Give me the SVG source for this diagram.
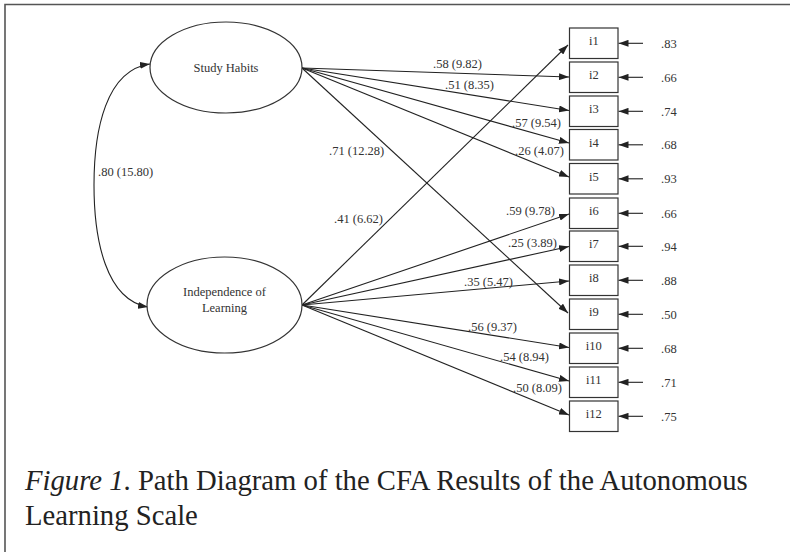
<svg xmlns="http://www.w3.org/2000/svg" width="790" height="552" viewBox="0 0 790 552">
<defs>
<marker id="ah" markerWidth="10" markerHeight="7" refX="10" refY="3.5" orient="auto-start-reverse" markerUnits="userSpaceOnUse">
<path d="M0,0 L10,3.5 L0,7 z" fill="#222"/>
</marker>
<style>
.t{font-family:"Liberation Serif","Times New Roman",serif;font-size:12.5px;fill:#333}
.c{text-anchor:middle}
.box{fill:#fff;stroke:#333;stroke-width:1.2}
.ell{fill:#fff;stroke:#333;stroke-width:1.2}
.ln{stroke:#222;stroke-width:1.1;fill:none;marker-end:url(#ah)}
.cap{font-family:"Liberation Serif","Times New Roman",serif;font-size:28.7px;fill:#222}
</style>
</defs>
<rect width="790" height="552" fill="#fff"/>
<path d="M5,552 V4.5 H790" fill="none" stroke="#555" stroke-width="1.6"/>

<g id="connectors">
<path class="ln" style="marker-start:url(#ah)" d="M150,64 C106,70 94,130 94,185 C94,240 106,300 148,307"/>
<line class="ln" x1="302" y1="68" x2="569" y2="77"/>
<line class="ln" x1="302" y1="68" x2="569" y2="110.5"/>
<line class="ln" x1="302" y1="68" x2="569" y2="143"/>
<line class="ln" x1="302" y1="68" x2="569" y2="177"/>
<line class="ln" x1="302" y1="68" x2="568" y2="313"/>
<line class="ln" x1="302" y1="305" x2="568" y2="45"/>
<line class="ln" x1="302" y1="305" x2="569" y2="214"/>
<line class="ln" x1="302" y1="305" x2="569" y2="246.5"/>
<line class="ln" x1="302" y1="305" x2="569" y2="281"/>
<line class="ln" x1="302" y1="305" x2="569" y2="347.5"/>
<line class="ln" x1="302" y1="305" x2="569" y2="381"/>
<line class="ln" x1="302" y1="305" x2="569" y2="415"/>
<line class="ln" x1="643" y1="43.3" x2="618.5" y2="43.3"/>
<line class="ln" x1="643" y1="77.3" x2="618.5" y2="77.3"/>
<line class="ln" x1="643" y1="111.3" x2="618.5" y2="111.3"/>
<line class="ln" x1="643" y1="144.8" x2="618.5" y2="144.8"/>
<line class="ln" x1="643" y1="178.8" x2="618.5" y2="178.8"/>
<line class="ln" x1="643" y1="213.3" x2="618.5" y2="213.3"/>
<line class="ln" x1="643" y1="246.3" x2="618.5" y2="246.3"/>
<line class="ln" x1="643" y1="280.3" x2="618.5" y2="280.3"/>
<line class="ln" x1="643" y1="314.3" x2="618.5" y2="314.3"/>
<line class="ln" x1="643" y1="348.3" x2="618.5" y2="348.3"/>
<line class="ln" x1="643" y1="382.3" x2="618.5" y2="382.3"/>
<line class="ln" x1="643" y1="416.3" x2="618.5" y2="416.3"/>
</g>

<g id="labels" class="t">
<text x="98" y="176">.80 (15.80)</text>
<text x="433" y="68">.58 (9.82)</text>
<text x="445" y="89">.51 (8.35)</text>
<text x="512" y="127">.57 (9.54)</text>
<text x="515" y="155">.26 (4.07)</text>
<text x="329" y="155">.71 (12.28)</text>
<text x="334" y="223">.41 (6.62)</text>
<text x="506" y="215">.59 (9.78)</text>
<text x="508" y="247">.25 (3.89)</text>
<text x="464" y="286">.35 (5.47)</text>
<text x="468" y="331">.56 (9.37)</text>
<text x="500" y="361">.54 (8.94)</text>
<text x="513" y="392">.50 (8.09)</text>
</g>

<g id="study_habits">
<ellipse class="ell" cx="226" cy="67.5" rx="76" ry="45.5"/>
<text class="t c" x="226" y="72">Study Habits</text>
</g>
<g id="independence">
<ellipse class="ell" cx="224.5" cy="305" rx="77.5" ry="48"/>
<text class="t c" x="224.5" y="296">Independence of</text>
<text class="t c" x="224.5" y="312">Learning</text>
</g>

<g id="i1"><rect class="box" x="569.5" y="28" width="48.5" height="30.5"/><text class="t c" x="593.8" y="45">i1</text></g>
<g id="i2"><rect class="box" x="569.5" y="62" width="48.5" height="30.5"/><text class="t c" x="593.8" y="79">i2</text></g>
<g id="i3"><rect class="box" x="569.5" y="96" width="48.5" height="30.5"/><text class="t c" x="593.8" y="113">i3</text></g>
<g id="i4"><rect class="box" x="569.5" y="129.5" width="48.5" height="30.5"/><text class="t c" x="593.8" y="146.5">i4</text></g>
<g id="i5"><rect class="box" x="569.5" y="163.5" width="48.5" height="30.5"/><text class="t c" x="593.8" y="180.5">i5</text></g>
<g id="i6"><rect class="box" x="569.5" y="198" width="48.5" height="30.5"/><text class="t c" x="593.8" y="215">i6</text></g>
<g id="i7"><rect class="box" x="569.5" y="231" width="48.5" height="30.5"/><text class="t c" x="593.8" y="248">i7</text></g>
<g id="i8"><rect class="box" x="569.5" y="265" width="48.5" height="30.5"/><text class="t c" x="593.8" y="282">i8</text></g>
<g id="i9"><rect class="box" x="569.5" y="299" width="48.5" height="30.5"/><text class="t c" x="593.8" y="316">i9</text></g>
<g id="i10"><rect class="box" x="569.5" y="333" width="48.5" height="30.5"/><text class="t c" x="593.8" y="350">i10</text></g>
<g id="i11"><rect class="box" x="569.5" y="367" width="48.5" height="30.5"/><text class="t c" x="593.8" y="384">i11</text></g>
<g id="i12"><rect class="box" x="569.5" y="401" width="48.5" height="30.5"/><text class="t c" x="593.8" y="418">i12</text></g>

<g id="residuals" class="t">
<text x="661" y="47.5">.83</text>
<text x="661" y="81.5">.66</text>
<text x="661" y="115.5">.74</text>
<text x="661" y="149">.68</text>
<text x="661" y="183">.93</text>
<text x="661" y="217.5">.66</text>
<text x="661" y="250.5">.94</text>
<text x="661" y="284.5">.88</text>
<text x="661" y="318.5">.50</text>
<text x="661" y="352.5">.68</text>
<text x="661" y="386.5">.71</text>
<text x="661" y="420.5">.75</text>
</g>

<g id="caption" class="cap">
<text x="25" y="490"><tspan font-style="italic">Figure 1</tspan>. Path Diagram of the CFA Results of the Autonomous</text>
<text x="25" y="525">Learning Scale</text>
</g>
</svg>
